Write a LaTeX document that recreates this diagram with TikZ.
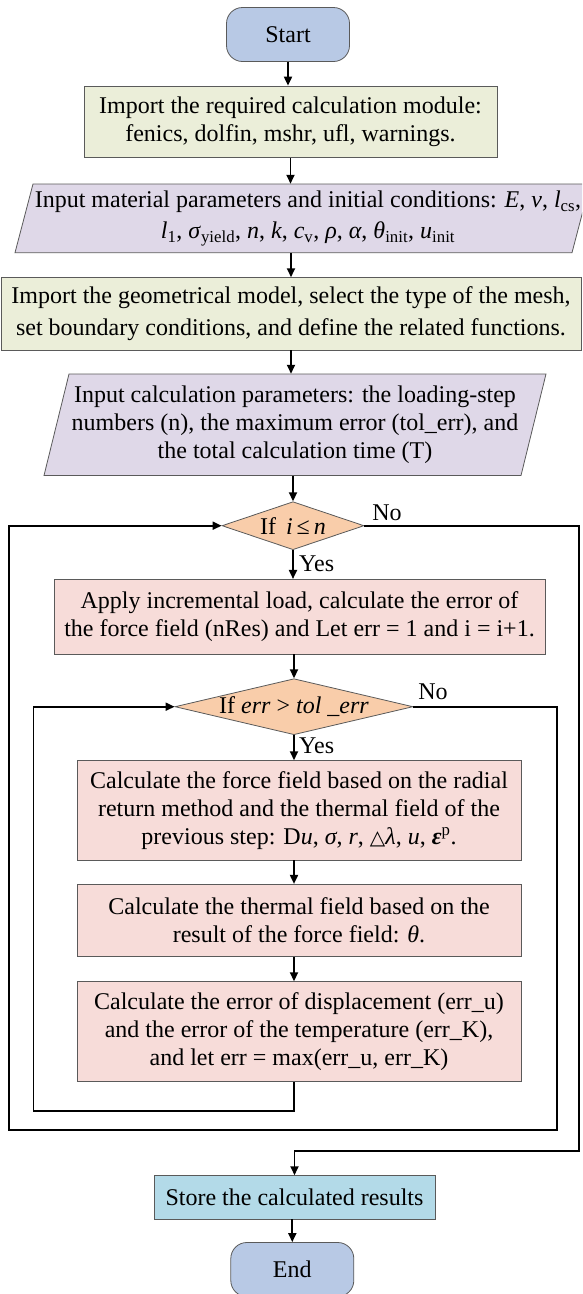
\documentclass[tikz,border=0pt]{standalone}
\usepackage{fontspec}
\setmainfont{Liberation Serif}
\newfontfamily\symfont{DejaVu Sans}
\usetikzlibrary{shapes.geometric,arrows.meta}
\definecolor{termfill}{HTML}{B8C9E5}
\definecolor{olivefill}{HTML}{EBEED9}
\definecolor{parafill}{HTML}{DFD8E8}
\definecolor{pinkfill}{HTML}{F7DCD9}
\definecolor{condfill}{HTML}{F9CDAA}
\definecolor{storefill}{HTML}{B3DAE8}
\definecolor{bordergray}{HTML}{5A5A5A}
\begin{document}
\begin{tikzpicture}[x=1pt,y=-1pt,
  every node/.style={font=\fontsize{24}{28}\selectfont},
  basebox/.style={draw=bordergray, line width=0.8pt, inner sep=0pt, align=center, anchor=center},
  termbox/.style={basebox, rounded corners=16pt, fill=termfill},
  olivebox/.style={basebox, fill=olivefill},
  pinkbox/.style={basebox, fill=pinkfill},
  storebox/.style={basebox, fill=storefill},
  textonly/.style={inner sep=0pt, align=center, anchor=center},
  parashape/.style={fill=parafill, draw=bordergray, line width=0.8pt},
  cond/.style={diamond, draw=bordergray, line width=0.8pt, fill=condfill, inner ysep=0pt, inner xsep=-8pt},
  lab/.style={inner sep=0pt},
  conn/.style={line width=1.8pt, draw=black},
  arr/.style={conn, -{Triangle[length=9pt,width=8pt]}}
]
\useasboundingbox (0,0) rectangle (582,1294);
\clip (0,0) rectangle (582,1294);

% start
\node[termbox, minimum width=123pt, minimum height=54pt] (start) at (288,34.5) {Start};
\node[olivebox, minimum width=413pt, minimum height=71.3pt] (imp) at (290.5,121.7)
  {Import the required calculation module:\\ fenics, dolfin, mshr, ufl, warnings.};

% parallelogram 1
\filldraw[parashape] (33,184) -- (590,184) -- (572,252.7) -- (15,252.7) -- cycle;
\node[textonly, minimum height=68.7pt, font=\fontsize{24}{31}\selectfont] (par1) at (308,218.3)
  {Input material parameters and initial conditions: \textit{E}, \textit{v}, \textit{l}\textsubscript{cs},\\
   \textit{l}\textsubscript{1}, \textit{σ}\textsubscript{yield}, \textit{n}, \textit{k}, \textit{c}\textsubscript{v}, \textit{ρ}, \textit{α}, \textit{θ}\textsubscript{init}, \textit{u}\textsubscript{init}};

\node[olivebox, minimum width=580pt, minimum height=72.3pt, font=\fontsize{24}{32}\selectfont] (geom) at (291,313.8)
  {Import the geometrical model, select the type of the mesh,\\ set boundary conditions, and define the related functions.};

% parallelogram 2
\filldraw[parashape] (69,374) -- (546,374) -- (521,475.5) -- (44,475.5) -- cycle;
\node[textonly, minimum height=101.5pt] (par2) at (295,424.7)
  {Input calculation parameters: the loading-step\\ numbers (n), the maximum error (tol\_err), and\\ the total calculation time (T)};

% condition 1
\node[cond, aspect=2.96, minimum width=142pt, minimum height=48pt] (c1) at (293,525.7)
  {If\, \textit{i}\,≤\,\textit{n}};

\node[pinkbox, minimum width=491pt, minimum height=74.7pt] (apply) at (299.5,616.7)
  {Apply incremental load, calculate the error of\\ the force field (nRes) and Let err = 1 and i = i+1.};

% condition 2
\node[cond, aspect=4.25, minimum width=238pt, minimum height=56pt] (c2) at (294,706.7)
  {If \textit{err} > \textit{tol \_err}};

\node[pinkbox, minimum width=444pt, minimum height=99.3pt] (force) at (299,810.3)
  {Calculate the force field based on the radial\\ return method and the thermal field of the\\
   previous step: D\textit{u}, \textit{σ}, \textit{r}, {\symfont\fontsize{20}{28}\selectfont △}\textit{λ}, \textit{u}, \textbf{\textit{ε}}\textsuperscript{p}.};

\node[pinkbox, minimum width=444pt, minimum height=72.4pt] (therm) at (299,920.5)
  {Calculate the thermal field based on the\\ result of the force field: \textit{θ}.};

\node[pinkbox, minimum width=444pt, minimum height=100pt] (errb) at (299,1031.7)
  {Calculate the error of displacement (err\_u)\\ and the error of the temperature (err\_K),\\ and let err = max(err\_u, err\_K)};

\node[storebox, minimum width=281pt, minimum height=43.3pt] (store) at (294.5,1197.3)
  {Store the calculated results};

\node[termbox, minimum width=123pt, minimum height=54pt] (end) at (292.3,1269.5) {End};

% labels
\node[lab] (no1) at (387,513) {No};
\node[lab, anchor=west] (yes1) at (299,564) {Yes};
\node[lab] (no2) at (433,692) {No};
\node[lab, anchor=west] (yes2) at (299,746) {Yes};

% straight arrows
\draw[arr] (start.south) -- (start.south |- imp.north);
\draw[arr] (imp.south) -- (imp.south |- par1.north);
\draw[arr] (geom.north |- par1.south) -- (geom.north);
\draw[arr] (geom.south) -- (geom.south |- par2.north);
\draw[arr] (c1.north |- par2.south) -- (c1.north);
\draw[arr] (c1.south) -- (c1.south |- apply.north);
\draw[arr] (c2.north |- apply.south) -- (c2.north);
\draw[arr] (c2.south) -- (c2.south |- force.north);
\draw[arr] (c2.south |- force.south) -- (c2.south |- therm.north);
\draw[arr] (c2.south |- therm.south) -- (c2.south |- errb.north);
\draw[arr] (store.south -| end.north) -- (end.north);

% loops
\coordinate (inner) at (33.4,1111);
\draw[arr] (c2.south |- errb.south) |- (inner) |- (c2.west);
\coordinate (outerR) at (557,1130);
\coordinate (outerL) at (9.3,1130);
\draw[arr] (c2.east) -| (outerR) -- (outerL) |- (c1.west);
\coordinate (exitR) at (579,1150.7);
\draw[arr] (c1.east) -| (exitR) -| (store.north);
\end{tikzpicture}
\end{document}
